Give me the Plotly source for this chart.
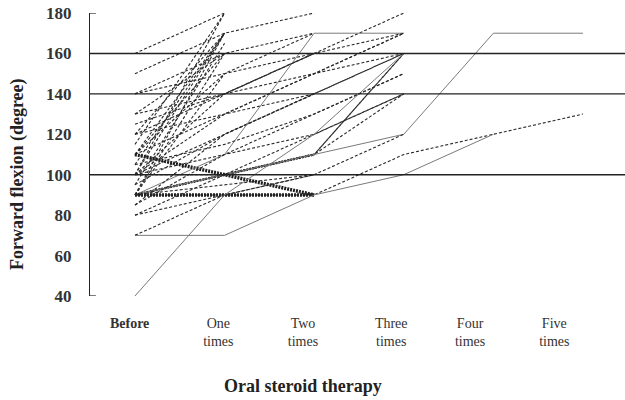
import plotly.graph_objects as go

# Forward flexion (degree) per patient at each stage of oral steroid therapy.
# None = no further course for that patient.
stages = ["Before", "One<br>times", "Two<br>times", "Three<br>times", "Four<br>times", "Five<br>times"]
stage_label_pos = [-0.06, 0.93, 1.875, 2.86, 3.74, 4.68]

before = [160, 150, 140, 140, 130, 125, 120, 120, 115, 110,
          110, 110, 110, 110, 110, 110, 105, 100, 100, 100,
          100, 100, 100, 100, 95, 95, 90, 90, 90, 90,
          90, 90, 90, 90, 90, 90, 90, 90, 90, 90,
          85, 80, 80, 70, 70, 40, 85, 130, 120, 105]
one_time = [180, 170, 160, 150, 140, 140, 130, 170, 180, 170,
            160, 150, 130, 100, 100, 100, 170, 180, 170, 140,
            130, 120, 110, 100, 165, 120, 170, 160, 150, 110,
            100, 100, 100, 100, 100, 90, 90, 90, 90, 95,
            110, 100, 90, 70, 90, 90, 120, 160, 140, 115]
two_times = [None, 180, None, 170, 160, 150, 140, None, None, None,
             None, 160, 150, 90, 90, 90, None, None, None, 160,
             150, 140, 120, 110, None, 140, None, None, None, 170,
             110, 110, 110, 110, 110, 90, 90, 90, 90, 100,
             130, 120, 100, 90, 100, 120, 140, 170, 160, 130]
three_times = [None, None, None, None, 180, 170, 160, None, None, None,
               None, None, 160, None, None, None, None, None, None, None,
               170, None, 140, 160, None, 160, None, None, None, 170,
               140, 160, None, None, 120, None, None, None, 110, 120,
               150, 140, None, 100, None, 160, None, None, 170, 150]
four_times = [None, None, None, None, None, None, None, None, None, None,
              None, None, None, None, None, None, None, None, None, None,
              None, None, None, None, None, None, None, None, None, None,
              None, None, None, None, 170, None, None, None, 120, None,
              None, None, None, 120, None, None, None, None, None, None]
five_times = [None, None, None, None, None, None, None, None, None, None,
              None, None, None, None, None, None, None, None, None, None,
              None, None, None, None, None, None, None, None, None, None,
              None, None, None, None, 170, None, None, None, 130, None,
              None, None, None, None, None, None, None, None, None, None]

gridline_values = [100, 140, 160]
y_ticks = [40, 60, 80, 100, 120, 140, 160, 180]

# Patients drawn as thin solid grey lines; the rest are dashed
solid_patients = {29, 34, 43, 45}

columns = [before, one_time, two_times, three_times, four_times, five_times]
serif = "Liberation Serif, Times New Roman, serif"

fig = go.Figure()

trajectories = []
for i in range(len(before)):
    xs, ys = [], []
    for k, col in enumerate(columns):
        if col[i] is not None:
            xs.append(k)
            ys.append(col[i])
    trajectories.append((tuple(xs), tuple(ys)))

# identical courses overlap; draw them once with a heavier, denser stroke
counts = {}
for t in trajectories:
    counts[t] = counts.get(t, 0) + 1

drawn = set()
for i, t in enumerate(trajectories):
    if t in drawn:
        continue
    drawn.add(t)
    n = counts[t]
    if i in solid_patients:
        line = dict(color="#7a7a7a", width=1.0)
    elif n > 1:
        line = dict(color="#1e1e1e", width=1.3 + 1.1 * (n - 1), dash="2px,1px")
    else:
        line = dict(color="#2a2a2a", width=1.1, dash="3px,2px")
    fig.add_trace(go.Scatter(x=list(t[0]), y=list(t[1]), mode="lines",
                             line=line, hoverinfo="skip", showlegend=False))

for g in gridline_values:
    fig.add_shape(type="line", xref="paper", x0=0, x1=1, yref="y", y0=g, y1=g,
                  line=dict(color="#222222", width=1.4), layer="above")

# short stubs at the ends of the value axis
for v in (y_ticks[0], y_ticks[-1]):
    fig.add_shape(type="line", xref="paper", x0=0, x1=0.011, yref="y", y0=v, y1=v,
                  line=dict(color="#222222", width=1.2))

fig.update_layout(
    width=625, height=400,
    margin=dict(l=90, r=0, t=13, b=104),
    paper_bgcolor="white", plot_bgcolor="white",
    font=dict(family=serif, color="#222222"),
    xaxis=dict(range=[-0.502, 5.469], showgrid=False, zeroline=False, showline=False,
               tickmode="array", tickvals=stage_label_pos,
               ticktext=["<b>Before</b>"] + stages[1:], ticks="",
               tickfont=dict(size=14, family=serif, color="#333333"),
               ticklabelstandoff=17),
    yaxis=dict(range=[40, 180], showgrid=False, zeroline=False,
               showline=True, linecolor="#222222", linewidth=1.4,
               tickmode="array", tickvals=y_ticks, ticks="",
               tickfont=dict(size=17, family=serif, color="#333333", weight="bold"),
               ticklabelstandoff=14),
    annotations=[
        dict(text="<b>Forward flexion (degree)</b>", textangle=-90,
             xref="paper", yref="paper", x=-0.135, y=0.43, xanchor="center", yanchor="middle",
             showarrow=False, font=dict(size=18, family=serif, color="#222222")),
        dict(text="<b>Oral steroid therapy</b>",
             xref="paper", yref="paper", x=0.399, y=-0.318, xanchor="center", yanchor="middle",
             showarrow=False, font=dict(size=18, family=serif, color="#222222")),
    ],
)

fig.write_html("out.html")
